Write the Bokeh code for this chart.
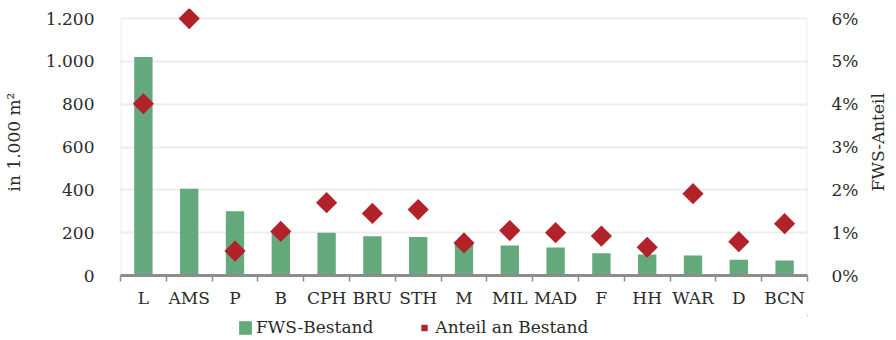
import math
from bokeh.plotting import figure
from bokeh.layouts import column, row
from bokeh.models import (Range1d, LinearAxis, FixedTicker, CustomJSTickFormatter,
                          Legend, LegendItem, ColumnDataSource, Label)
from bokeh.embed import file_html
from bokeh.resources import INLINE

categories = ["L", "AMS", "P", "B", "CPH", "BRU", "STH", "M", "MIL", "MAD", "F", "HH", "WAR", "D", "BCN"]
bestand = [1020, 405, 300, 200, 200, 183, 180, 155, 140, 131, 104, 98, 93, 73, 70]
anteil = [4.01, 6.0, 0.57, 1.03, 1.70, 1.45, 1.54, 0.76, 1.05, 1.00, 0.92, 0.66, 1.91, 0.79, 1.21]
left_ticks = [0, 200, 400, 600, 800, 1000, 1200]
left_tick_labels = ["0", "200", "400", "600", "800", "1.000", "1.200"]
right_ticks = [0, 1, 2, 3, 4, 5, 6]
right_tick_labels = ["0%", "1%", "2%", "3%", "4%", "5%", "6%"]
series_names = ["FWS-Bestand", "Anteil an Bestand"]
left_title = "in 1.000 m²"
right_title = "FWS-Anteil"

FONT = "DejaVu Serif"
TXT = "#2b2b2b"
GREEN = "#63a97c"
RED = "#b2222a"
GRID = "#ededed"
AXIS = "#8c8c8c"

n = len(categories)
xs = [i + 0.5 for i in range(n)]
y_top = left_ticks[-1] * 1.039
r_top = y_top * right_ticks[-1] / left_ticks[-1]

src = ColumnDataSource(dict(x=xs, cat=categories, bestand=bestand, anteil=anteil))

LOOKUP = "const i = tv.indexOf(tick); return i >= 0 ? lbls[i] : '';"

MAIN_W = 866
p = figure(width=MAIN_W, height=315, output_backend="svg", toolbar_location=None,
           x_range=Range1d(0, n), y_range=Range1d(0, y_top),
           min_border_left=112, min_border_right=59, min_border_top=8, min_border_bottom=40)
p.extra_y_ranges = {"pct": Range1d(0, r_top)}
p.outline_line_color = None
p.background_fill_color = "white"
p.border_fill_color = "white"
p.xgrid.visible = False
p.ygrid.ticker = FixedTicker(ticks=left_ticks[1:])
p.ygrid.grid_line_color = GRID
p.ygrid.grid_line_width = 2

# frame side lines
p.segment(x0=[0, n], y0=[0, 0], x1=[0, n], y1=[left_ticks[-1]] * 2,
          line_color=GRID, line_width=2)

bar_kw = dict(width=0.4, fill_color=GREEN, line_color=None)
pt_kw = dict(marker="square", angle=math.pi / 4, size=15, fill_color=RED, line_color=None)

p.vbar(x="x", top="bestand", source=src, **bar_kw)
p.scatter(x="x", y="anteil", source=src, y_range_name="pct", **pt_kw)

# x axis
xa = p.xaxis[0]
xa.ticker = FixedTicker(ticks=xs, minor_ticks=list(range(n + 1)))
xa.formatter = CustomJSTickFormatter(args=dict(lbls=categories),
                                     code="const i = Math.floor(tick); return (i >= 0 && i < lbls.length) ? lbls[i] : '';")
xa.axis_line_color = AXIS
xa.axis_line_width = 3
xa.major_tick_line_color = None
xa.minor_tick_line_color = AXIS
xa.minor_tick_line_width = 1.5
xa.minor_tick_out = 6
xa.minor_tick_in = 0
xa.major_label_standoff = 6
xa.major_label_text_font = FONT
xa.major_label_text_font_size = "17px"
xa.major_label_text_color = TXT

# left axis
ya = p.yaxis[0]
ya.ticker = FixedTicker(ticks=left_ticks)
ya.formatter = CustomJSTickFormatter(args=dict(tv=left_ticks, lbls=left_tick_labels), code=LOOKUP)
ya.axis_line_color = None
ya.major_tick_line_color = None
ya.minor_tick_line_color = None
ya.major_label_standoff = 20
ya.major_label_text_font = FONT
ya.major_label_text_font_size = "17px"
ya.major_label_text_color = TXT
ya.axis_label = left_title
ya.axis_label_text_font = FONT
ya.axis_label_text_font_size = "17px"
ya.axis_label_text_font_style = "normal"
ya.axis_label_text_color = TXT
ya.axis_label_standoff = 19

# right axis (title drawn separately so it reads bottom-to-top)
ra = LinearAxis(y_range_name="pct", ticker=FixedTicker(ticks=right_ticks),
                formatter=CustomJSTickFormatter(args=dict(tv=right_ticks, lbls=right_tick_labels), code=LOOKUP))
ra.axis_line_color = None
ra.major_tick_line_color = None
ra.minor_tick_line_color = None
ra.major_label_standoff = 18
ra.major_label_text_font = FONT
ra.major_label_text_font_size = "17px"
ra.major_label_text_color = TXT
p.add_layout(ra, "right")

# right title strip
tf = figure(width=888 - MAIN_W, height=315, output_backend="svg", toolbar_location=None,
            x_range=Range1d(0, 1), y_range=Range1d(0, 1), x_axis_type=None, y_axis_type=None,
            min_border_left=0, min_border_right=0, min_border_top=0, min_border_bottom=0)
tf.outline_line_color = None
tf.xgrid.visible = False
tf.ygrid.visible = False
tf.add_layout(Label(x=0.5, y=0.55, text=right_title, angle=math.pi / 2,
                    text_align="center", text_baseline="middle",
                    text_font=FONT, text_font_size="17px", text_color=TXT))

# legend strip (same series drawn off-range so only the legend shows)
lg = figure(width=MAIN_W, height=25, output_backend="svg", toolbar_location=None,
            x_range=Range1d(-20, -19), y_range=Range1d(-20, -19), x_axis_type=None, y_axis_type=None,
            min_border_left=0, min_border_right=0, min_border_top=0, min_border_bottom=0)
lg.outline_line_color = None
lg.xgrid.visible = False
lg.ygrid.visible = False
rb = lg.vbar(x="x", top="bestand", source=src, **bar_kw)
rs = lg.scatter(x="x", y="anteil", source=src, **pt_kw)
legend = Legend(items=[LegendItem(label=series_names[0], renderers=[rb]),
                       LegendItem(label=series_names[1], renderers=[rs])],
                orientation="horizontal", location=(117, 3),
                glyph_width=16, glyph_height=17, label_standoff=3, spacing=43,
                padding=0, margin=0, border_line_color=None, background_fill_alpha=0,
                label_text_font=FONT, label_text_font_size="17px", label_text_color=TXT)
lg.add_layout(legend, "center")

layout = row(column(p, lg, spacing=0), tf, spacing=0)
open("out.html", "w").write(file_html(layout, INLINE))
